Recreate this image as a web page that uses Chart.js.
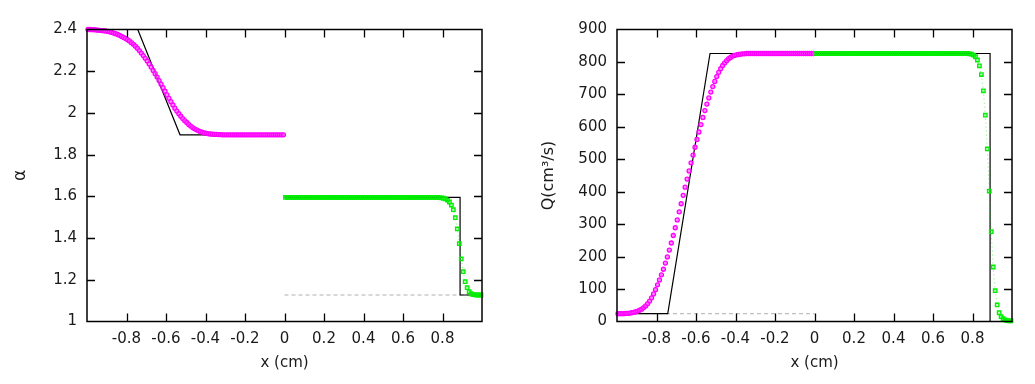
<!DOCTYPE html>
<html>
<head>
<meta charset="utf-8">
<script src="https://cdn.jsdelivr.net/npm/chart.js@4.4.1/dist/chart.umd.min.js"></script>
<style>
  html, body { margin: 0; padding: 0; background: #fff; }
  #alphaChart { position: absolute; left: 0; top: 0; }
  #flowChart { position: absolute; left: 517px; top: 0; }
</style>
</head>
<body>
<canvas id="alphaChart" width="517" height="384"></canvas>
<canvas id="flowChart" width="518" height="384"></canvas>
<script>
// mesh cell centres, 100 cells on each side of the junction at x = 0
const cellsNeg = [];
const cellsPos = [];
for (let i = 0; i < 100; i++) {
    cellsNeg.push(-0.995 + i * 0.01);
    cellsPos.push(0.005 + i * 0.01);
}

// alpha, left vessel (magenta) and right vessel (green)
const alphaLeft = [
    2.400, 2.400, 2.399, 2.399, 2.398, 2.397, 2.396, 2.395, 2.394, 2.393,
    2.391, 2.389, 2.386, 2.383, 2.380, 2.376, 2.372, 2.367, 2.362, 2.357,
    2.351, 2.345, 2.337, 2.329, 2.320, 2.310, 2.299, 2.287, 2.275, 2.262,
    2.249, 2.235, 2.220, 2.204, 2.188, 2.172, 2.155, 2.138, 2.121, 2.104,
    2.087, 2.070, 2.054, 2.038, 2.023, 2.009, 1.996, 1.984, 1.973, 1.963,
    1.954, 1.945, 1.937, 1.930, 1.924, 1.919, 1.914, 1.910, 1.907, 1.904,
    1.902, 1.900, 1.899, 1.898, 1.897, 1.897, 1.896, 1.896, 1.895, 1.895,
    1.895, 1.895, 1.895, 1.895, 1.895, 1.895, 1.895, 1.895, 1.895, 1.895,
    1.895, 1.895, 1.895, 1.895, 1.895, 1.895, 1.895, 1.895, 1.895, 1.895,
    1.895, 1.895, 1.895, 1.895, 1.895, 1.895, 1.895, 1.895, 1.895, 1.895
];
const alphaRight = [
    1.595, 1.595, 1.595, 1.595, 1.595, 1.595, 1.595, 1.595, 1.595, 1.595,
    1.595, 1.595, 1.595, 1.595, 1.595, 1.595, 1.595, 1.595, 1.595, 1.595,
    1.595, 1.595, 1.595, 1.595, 1.595, 1.595, 1.595, 1.595, 1.595, 1.595,
    1.595, 1.595, 1.595, 1.595, 1.595, 1.595, 1.595, 1.595, 1.595, 1.595,
    1.595, 1.595, 1.595, 1.595, 1.595, 1.595, 1.595, 1.595, 1.595, 1.595,
    1.595, 1.595, 1.595, 1.595, 1.595, 1.595, 1.595, 1.595, 1.595, 1.595,
    1.595, 1.595, 1.595, 1.595, 1.595, 1.595, 1.595, 1.595, 1.595, 1.595,
    1.595, 1.595, 1.595, 1.595, 1.595, 1.595, 1.595, 1.595, 1.594, 1.593,
    1.591, 1.588, 1.582, 1.573, 1.558, 1.536, 1.498, 1.444, 1.373, 1.300,
    1.239, 1.191, 1.162, 1.143, 1.133, 1.129, 1.128, 1.127, 1.127, 1.127
];

// flow rate Q, left vessel (magenta) and right vessel (green)
const flowLeft = [
    24, 24, 24, 24, 25, 25, 26, 27, 28, 30,
    32, 35, 38, 43, 48, 55, 63, 73, 85, 98,
    113, 128, 144, 161, 180, 199, 220, 242, 265, 289,
    313, 338, 363, 389, 414, 439, 464, 489, 513, 537,
    561, 584, 607, 629, 650, 670, 689, 707, 724, 740,
    755, 768, 779, 789, 797, 804, 810, 814, 818, 820,
    822, 823, 824, 825, 825, 826, 826, 826, 826, 826,
    826, 826, 826, 826, 826, 826, 826, 826, 826, 826,
    826, 826, 826, 826, 826, 826, 826, 826, 826, 826,
    826, 826, 826, 826, 826, 826, 826, 826, 826, 826
];
const flowRight = [
    826, 826, 826, 826, 826, 826, 826, 826, 826, 826,
    826, 826, 826, 826, 826, 826, 826, 826, 826, 826,
    826, 826, 826, 826, 826, 826, 826, 826, 826, 826,
    826, 826, 826, 826, 826, 826, 826, 826, 826, 826,
    826, 826, 826, 826, 826, 826, 826, 826, 826, 826,
    826, 826, 826, 826, 826, 826, 826, 826, 826, 826,
    826, 826, 826, 826, 826, 826, 826, 826, 826, 826,
    826, 826, 826, 826, 826, 826, 826, 826, 825, 824,
    821, 816, 806, 788, 761, 711, 636, 532, 402, 277,
    168, 95, 51, 27, 15, 9, 5, 3, 2, 2
];

// exact solutions (black) and initial states (grey dashed)
const exactAlphaLeftX = [-1, -0.743, -0.529, 0];
const exactAlphaLeftY = [2.4, 2.4, 1.895, 1.895];
const exactAlphaRightX = [0, 0.889, 0.889, 1];
const exactAlphaRightY = [1.595, 1.595, 1.127, 1.127];
const initAlphaX = [0, 1];
const initAlphaY = [1.127, 1.127];

const exactFlowLeftX = [-1, -0.743, -0.529, 0];
const exactFlowLeftY = [24, 24, 826, 826];
const exactFlowRightX = [0, 0.889, 0.889, 1];
const exactFlowRightY = [826, 826, 0, 0];
const initFlowX = [-1, 0];
const initFlowY = [24, 24];

function pts(xs, ys) {
    return xs.map((x, i) => ({ x: x, y: ys[i] }));
}

Chart.defaults.font.family = "'DejaVu Sans', sans-serif";
Chart.defaults.font.size = 15;
Chart.defaults.color = '#1a1a1a';

// gnuplot style box with inward ticks on all four sides
const frameTicks = {
    id: 'frameTicks',
    afterDraw(chart) {
        const ctx = chart.ctx;
        const a = chart.chartArea;
        const xs = chart.scales.x;
        const ys = chart.scales.y;
        ctx.save();
        ctx.strokeStyle = '#000';
        ctx.lineWidth = 1.3;
        ctx.beginPath();
        xs.ticks.forEach(t => {
            if (t.value <= xs.min + 1e-9 || t.value >= xs.max - 1e-9) return;
            const px = Math.round(xs.getPixelForValue(t.value)) + 0.5;
            ctx.moveTo(px, a.bottom); ctx.lineTo(px, a.bottom - 8);
            ctx.moveTo(px, a.top); ctx.lineTo(px, a.top + 8);
        });
        ys.ticks.forEach(t => {
            if (t.value <= ys.min + 1e-9 || t.value >= ys.max - 1e-9) return;
            const py = Math.round(ys.getPixelForValue(t.value)) + 0.5;
            ctx.moveTo(a.left, py); ctx.lineTo(a.left + 8, py);
            ctx.moveTo(a.right, py); ctx.lineTo(a.right - 8, py);
        });
        ctx.stroke();
        ctx.lineWidth = 1.5;
        ctx.strokeRect(a.left, a.top, a.right - a.left, a.bottom - a.top);
        ctx.restore();
    }
};

function greenSet(data) {
    return {
        data: data,
        showLine: true,
        borderColor: 'rgba(0, 230, 0, 0.55)',
        borderWidth: 1,
        borderDash: [1, 3],
        pointStyle: 'rect',
        pointRadius: 2.4,
        pointBorderWidth: 1.4,
        pointBorderColor: '#00ee00',
        pointBackgroundColor: 'rgba(0,255,0,0.15)',
        clip: false
    };
}

function magentaSet(data) {
    return {
        data: data,
        showLine: true,
        borderColor: 'rgba(255, 0, 255, 0.35)',
        borderWidth: 1,
        borderDash: [1, 3],
        pointStyle: 'circle',
        pointRadius: 2,
        pointBorderWidth: 1.3,
        pointBorderColor: '#ff00ff',
        pointBackgroundColor: 'rgba(255, 100, 255, 0.7)',
        clip: false
    };
}

function exactSet(data) {
    return {
        data: data,
        showLine: true,
        borderColor: '#000',
        borderWidth: 1.2,
        pointRadius: 0
    };
}

function initSet(data) {
    return {
        data: data,
        showLine: true,
        borderColor: '#b0b0b0',
        borderWidth: 1,
        borderDash: [4, 3],
        pointRadius: 0
    };
}

function makeChart(id, o) {
    return new Chart(document.getElementById(id), {
        type: 'scatter',
        data: { datasets: o.datasets },
        options: {
            responsive: false,
            animation: false,
            layout: { padding: { top: 29.5, right: o.rightPad, left: 0, bottom: 0 } },
            plugins: { legend: { display: false }, tooltip: { enabled: false } },
            scales: {
                x: {
                    type: 'linear',
                    min: -1,
                    max: 1,
                    grid: { display: false, drawTicks: false },
                    border: { display: false },
                    ticks: {
                        stepSize: 0.2,
                        padding: 9,
                        callback: v => (Math.abs(v) > 0.99 ? '' : String(Number(v.toFixed(1))))
                    },
                    title: { display: true, text: 'x (cm)', padding: { top: 0, bottom: 12 } },
                    afterFit: s => { s.height = 62.5; }
                },
                y: {
                    min: o.yMin,
                    max: o.yMax,
                    grid: { display: false, drawTicks: false },
                    border: { display: false },
                    ticks: {
                        stepSize: o.yStep,
                        padding: 10,
                        callback: v => String(Number(v.toFixed(1)))
                    },
                    title: { display: true, text: o.yTitle, font: { size: o.titleSize }, padding: { top: o.titlePad, bottom: 0 } },
                    afterFit: s => { s.width = o.yWidth; }
                }
            }
        },
        plugins: [frameTicks]
    });
}

makeChart('alphaChart', {
    yMin: 1, yMax: 2.4, yStep: 0.2,
    yTitle: 'α', titleSize: 17, titlePad: 10, yWidth: 87, rightPad: 35,
    datasets: [
        greenSet(pts(cellsPos, alphaRight)),
        magentaSet(pts(cellsNeg, alphaLeft)),
        exactSet(pts(exactAlphaLeftX, exactAlphaLeftY)),
        exactSet(pts(exactAlphaRightX, exactAlphaRightY)),
        initSet(pts(initAlphaX, initAlphaY))
    ]
});

makeChart('flowChart', {
    yMin: 0, yMax: 900, yStep: 100,
    yTitle: 'Q(cm³/s)', titleSize: 16, titlePad: 22, yWidth: 100, rightPad: 23,
    datasets: [
        greenSet(pts(cellsPos, flowRight)),
        magentaSet(pts(cellsNeg, flowLeft)),
        exactSet(pts(exactFlowLeftX, exactFlowLeftY)),
        exactSet(pts(exactFlowRightX, exactFlowRightY)),
        initSet(pts(initFlowX, initFlowY))
    ]
});
</script>
</body>
</html>
